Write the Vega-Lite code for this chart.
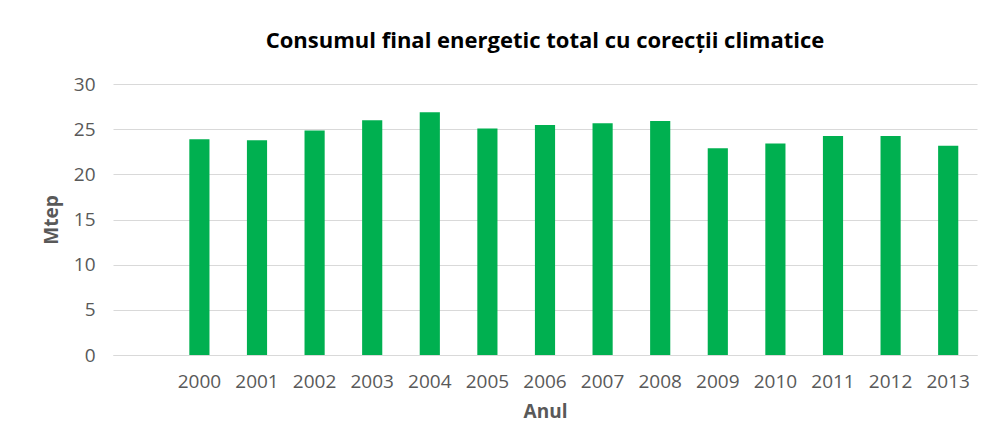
{
  "$schema": "https://vega.github.io/schema/vega-lite/v6.json",
  "autosize": "none",
  "width": 864,
  "height": 271,
  "padding": {"left": 113, "top": 84, "right": 13, "bottom": 93},
  "background": "white",
  "title": {
    "text": "Consumul final energetic total cu corecții climatice",
    "font": "Open Sans",
    "fontSize": 22,
    "fontWeight": "bold",
    "color": "#000000",
    "anchor": "middle",
    "offset": 22
  },
  "data": {
    "values": [
      {"Anul": "2000", "Mtep": 23.88},
      {"Anul": "2001", "Mtep": 23.77},
      {"Anul": "2002", "Mtep": 24.84},
      {"Anul": "2003", "Mtep": 26.0},
      {"Anul": "2004", "Mtep": 26.87},
      {"Anul": "2005", "Mtep": 25.06},
      {"Anul": "2006", "Mtep": 25.46},
      {"Anul": "2007", "Mtep": 25.65},
      {"Anul": "2008", "Mtep": 25.9},
      {"Anul": "2009", "Mtep": 22.9},
      {"Anul": "2010", "Mtep": 23.4},
      {"Anul": "2011", "Mtep": 24.25},
      {"Anul": "2012", "Mtep": 24.25},
      {"Anul": "2013", "Mtep": 23.17}
    ]
  },
  "mark": {"type": "bar", "color": "#00B050"},
  "encoding": {
    "x": {
      "field": "Anul",
      "type": "ordinal",
      "scale": {
        "domain": ["", "2000", "2001", "2002", "2003", "2004", "2005", "2006", "2007", "2008", "2009", "2010", "2011", "2012", "2013"],
        "paddingInner": 0.65,
        "paddingOuter": 0.325
      },
      "axis": {
        "title": "Anul",
        "labelAngle": 0,
        "ticks": false,
        "domainColor": "#d9d9d9",
        "labelColor": "#595959",
        "labelFont": "Open Sans",
        "labelFontSize": 19,
        "labelPadding": 17,
        "titleFont": "Open Sans",
        "titleFontSize": 19,
        "titleFontWeight": "bold",
        "titleColor": "#595959",
        "titlePadding": 11
      }
    },
    "y": {
      "field": "Mtep",
      "type": "quantitative",
      "scale": {"domain": [0, 30]},
      "axis": {
        "title": "Mtep",
        "values": [0, 5, 10, 15, 20, 25, 30],
        "domain": false,
        "ticks": false,
        "gridColor": "#d9d9d9",
        "labelColor": "#595959",
        "labelFont": "Open Sans",
        "labelFontSize": 19,
        "labelPadding": 18,
        "titleFont": "Open Sans",
        "titleFontSize": 19,
        "titleFontWeight": "bold",
        "titleColor": "#595959",
        "titlePadding": 12
      }
    }
  },
  "config": {"view": {"stroke": null}}
}
